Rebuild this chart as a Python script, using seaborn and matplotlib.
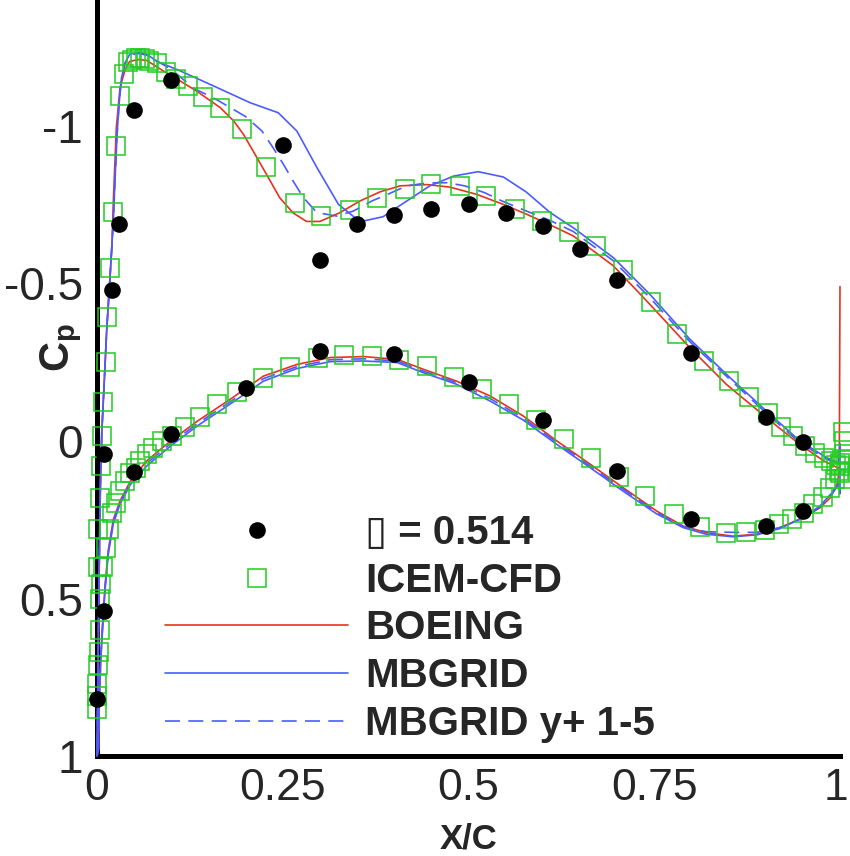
import numpy as np
import pandas as pd
import matplotlib
matplotlib.use("Agg")
import matplotlib.pyplot as plt
from matplotlib.ticker import MultipleLocator, FixedLocator, FixedFormatter
from matplotlib.transforms import ScaledTranslation
import seaborn as sns

# ---------------- data (x/c, Cp) ----------------
# Experiment (filled circles)
exp_up_x = [0.0, 0.01, 0.01, 0.02, 0.03, 0.05, 0.10, 0.25, 0.30, 0.35, 0.40, 0.45, 0.50,
            0.55, 0.60, 0.65, 0.70, 0.80, 0.90, 0.95]
exp_up_cp = [0.82, 0.54, 0.042, -0.478, -0.688, -1.05, -1.147, -0.939, -0.574, -0.688, -0.718,
             -0.737, -0.752, -0.725, -0.683, -0.61, -0.511, -0.28, -0.077, 0.004]
exp_lo_x = [0.05, 0.10, 0.20, 0.30, 0.40, 0.50, 0.60, 0.70, 0.80, 0.90, 0.95]
exp_lo_cp = [0.097, -0.023, -0.167, -0.286, -0.276, -0.188, -0.066, 0.095, 0.249, 0.27, 0.222]

# ICEM-CFD (open squares)
icem_up_x = [0.0, 0.0, 0.0, 0.002, 0.003, 0.004, 0.004, 0.006, 0.002, 0.002, 0.004, 0.0054,
             0.007, 0.0085, 0.012, 0.014, 0.0175, 0.022, 0.026, 0.031, 0.037, 0.042, 0.047,
             0.052, 0.058, 0.064, 0.070, 0.081, 0.093, 0.106, 0.123, 0.142, 0.166, 0.195,
             0.228, 0.266, 0.301, 0.340, 0.377, 0.414, 0.450, 0.488, 0.524, 0.562, 0.599,
             0.635, 0.672, 0.708, 0.745, 0.781, 0.817, 0.851, 0.878, 0.903, 0.921, 0.937,
             0.953, 0.966, 0.978, 0.988, 0.995, 1.0, 1.004, 1.005]
icem_up_cp = [0.85, 0.81, 0.77, 0.71, 0.67, 0.60, 0.50, 0.455, 0.40, 0.28, 0.18, 0.079,
              -0.016, -0.124, -0.252, -0.394, -0.548, -0.728, -0.937, -1.095, -1.166, -1.203,
              -1.21, -1.215, -1.215, -1.212, -1.205, -1.2, -1.172, -1.148, -1.127, -1.093,
              -1.056, -0.99, -0.869, -0.755, -0.714, -0.733, -0.771, -0.801, -0.816, -0.809,
              -0.779, -0.737, -0.697, -0.663, -0.619, -0.542, -0.442, -0.341, -0.254, -0.19,
              -0.14, -0.09, -0.044, -0.016, 0.016, 0.037, 0.053, 0.065, 0.075, 0.08, -0.03,
              0.0]
icem_lo_x = [0.008, 0.012, 0.016, 0.020, 0.025, 0.031, 0.038, 0.045, 0.052, 0.058, 0.067,
             0.076, 0.087, 0.101, 0.119, 0.138, 0.162, 0.188, 0.223, 0.260, 0.297, 0.333,
             0.370, 0.406, 0.444, 0.480, 0.518, 0.555, 0.591, 0.628, 0.665, 0.702, 0.738,
             0.776, 0.812, 0.847, 0.874, 0.899, 0.918, 0.935, 0.951, 0.964, 0.977, 0.987,
             0.993, 0.998, 1.0, 1.005, 1.008, 1.0, 1.005]
icem_lo_cp = [0.40, 0.34, 0.28, 0.228, 0.196, 0.159, 0.127, 0.101, 0.085, 0.063, 0.042,
              0.021, 0.0, -0.016, -0.044, -0.077, -0.117, -0.157, -0.199, -0.236, -0.263,
              -0.272, -0.269, -0.256, -0.238, -0.204, -0.166, -0.118, -0.066, -0.005, 0.055,
              0.114, 0.175, 0.233, 0.273, 0.292, 0.289, 0.284, 0.265, 0.247, 0.23, 0.201,
              0.178, 0.148, 0.122, 0.095, 0.07, 0.04, 0.06, 0.1, 0.12]

# BOEING (red)
boe_up_x = [0.0, 0.001, 0.002, 0.003, 0.0045, 0.0065, 0.01, 0.013, 0.017, 0.02, 0.022, 0.026,
            0.031, 0.038, 0.044, 0.056, 0.067, 0.089, 0.112, 0.134, 0.166, 0.184, 0.197, 0.210,
            0.228, 0.246, 0.264, 0.282, 0.300, 0.327, 0.354, 0.381, 0.408, 0.444, 0.475, 0.511,
            0.547, 0.578, 0.610, 0.641, 0.695, 0.744, 0.798, 0.847, 0.901, 0.946, 0.978, 0.997]
boe_up_cp = [1.0, 0.8, 0.6, 0.4, 0.15, -0.03, -0.2, -0.35, -0.5, -0.614, -0.762, -0.995,
             -1.122, -1.18, -1.205, -1.211, -1.208, -1.175, -1.143, -1.111, -1.058, -1.016,
             -0.974, -0.921, -0.847, -0.772, -0.724, -0.697, -0.697, -0.725, -0.762, -0.791,
             -0.81, -0.814, -0.806, -0.783, -0.751, -0.72, -0.686, -0.651, -0.556, -0.434,
             -0.296, -0.18, -0.074, 0.011, 0.063, 0.085]
boe_lo_x = [0.002, 0.003, 0.005, 0.008, 0.011, 0.015, 0.022, 0.031, 0.045, 0.067, 0.099, 0.135,
            0.179, 0.224, 0.269, 0.314, 0.359, 0.404, 0.439, 0.484, 0.529, 0.574, 0.619, 0.664,
            0.708, 0.753, 0.789, 0.82, 0.856, 0.888, 0.919, 0.951, 0.973, 0.987, 0.996, 0.999,
            1.0]
boe_lo_cp = [0.974, 0.825, 0.688, 0.561, 0.455, 0.349, 0.249, 0.19, 0.127, 0.063, 0.0, -0.063,
             -0.132, -0.206, -0.243, -0.265, -0.268, -0.259, -0.228, -0.19, -0.143, -0.079, 0.0,
             0.074, 0.148, 0.222, 0.27, 0.291, 0.302, 0.296, 0.275, 0.243, 0.212, 0.18, 0.138,
             0.095, -0.49]

# MBGRID (blue solid)
mb_up_x = [0.0, 0.001, 0.002, 0.003, 0.0045, 0.0065, 0.01, 0.013, 0.017, 0.02, 0.022, 0.024,
           0.027, 0.03, 0.033, 0.038, 0.044, 0.056, 0.067, 0.08, 0.112, 0.157, 0.206, 0.244,
           0.269, 0.296, 0.325, 0.354, 0.385, 0.417, 0.448, 0.48, 0.513, 0.547, 0.578, 0.61,
           0.641, 0.695, 0.744, 0.798, 0.852, 0.901, 0.946, 0.982, 0.998, 1.0]
mb_up_cp = [1.0, 0.8, 0.6, 0.4, 0.15, -0.03, -0.2, -0.35, -0.5, -0.62, -0.7, -0.815, -0.974,
            -1.079, -1.153, -1.201, -1.228, -1.233, -1.228, -1.206, -1.175, -1.127, -1.074,
            -1.042, -0.984, -0.868, -0.751, -0.696, -0.712, -0.762, -0.81, -0.841, -0.855,
            -0.838, -0.79, -0.725, -0.677, -0.582, -0.466, -0.323, -0.201, -0.095, 0.0, 0.053,
            0.069, 0.01]
mb_lo_x = [0.002, 0.003, 0.005, 0.008, 0.011, 0.015, 0.022, 0.031, 0.045, 0.067, 0.099, 0.135,
           0.179, 0.224, 0.269, 0.314, 0.359, 0.404, 0.439, 0.484, 0.529, 0.574, 0.619, 0.664,
           0.708, 0.753, 0.789, 0.82, 0.856, 0.888, 0.919, 0.951, 0.973, 0.989, 0.998, 1.0, 1.0]
mb_lo_cp = [0.98, 0.835, 0.70, 0.575, 0.468, 0.362, 0.262, 0.20, 0.138, 0.079, 0.016, -0.048,
            -0.117, -0.19, -0.23, -0.252, -0.254, -0.249, -0.217, -0.18, -0.127, -0.066, 0.011,
            0.085, 0.159, 0.231, 0.275, 0.296, 0.304, 0.298, 0.278, 0.243, 0.206, 0.165, 0.135,
            0.168, 0.01]

# MBGRID y+ 1-5 (blue dashed)
mby_up_x = [0.0, 0.001, 0.002, 0.003, 0.0045, 0.0065, 0.01, 0.013, 0.017, 0.02, 0.022, 0.024,
            0.027, 0.03, 0.033, 0.038, 0.044, 0.056, 0.067, 0.1, 0.13, 0.16, 0.2, 0.222, 0.237,
            0.251, 0.264, 0.278, 0.296, 0.323, 0.345, 0.37, 0.394, 0.417, 0.444, 0.471, 0.495,
            0.522, 0.545, 0.578, 0.61, 0.641, 0.695, 0.744, 0.798, 0.852, 0.901, 0.946, 0.982,
            0.998]
mby_up_cp = [1.0, 0.8, 0.6, 0.4, 0.15, -0.03, -0.2, -0.35, -0.5, -0.62, -0.7, -0.815, -0.974,
             -1.079, -1.153, -1.201, -1.225, -1.23, -1.225, -1.18, -1.12, -1.085, -1.03, -0.984,
             -0.931, -0.878, -0.825, -0.772, -0.725, -0.714, -0.73, -0.762, -0.786, -0.81, -0.819,
             -0.82, -0.81, -0.788, -0.762, -0.73, -0.7, -0.665, -0.572, -0.455, -0.315, -0.195,
             -0.088, 0.005, 0.058, 0.072]
mby_lo_x = mb_lo_x[:-2]
mby_lo_cp = [0.977, 0.83, 0.694, 0.568, 0.462, 0.356, 0.256, 0.195, 0.133, 0.071, 0.008,
             -0.055, -0.124, -0.198, -0.236, -0.258, -0.261, -0.254, -0.222, -0.185, -0.135,
             -0.072, 0.005, 0.08, 0.153, 0.226, 0.272, 0.288, 0.29, 0.29, 0.275, 0.243, 0.21,
             0.17, 0.136]

legend_labels = ["\u25af = 0.514", "ICEM-CFD", "BOEING", "MBGRID", "MBGRID y+ 1-5"]
x_ticks = [0, 0.25, 0.5, 0.75, 1]
x_ticklabels = ["0", "0.25", "0.5", "0.75", "1"]
y_ticks = [-1, -0.5, 0, 0.5, 1]
y_ticklabels = ["-1", "-0.5", "0", "0.5", "1"]

# ---------------- styling ----------------
sns.set_style("white")
plt.rcParams["font.family"] = ["Liberation Sans", "DejaVu Sans"]
plt.rcParams["mathtext.fontset"] = "custom"
plt.rcParams["mathtext.rm"] = "Liberation Sans"
plt.rcParams["mathtext.bf"] = "Liberation Sans:bold"

RED = "#e8321e"
BLUE = "#4a5cff"
GREEN = "#22cc22"

fig = plt.figure(figsize=(8.5, 8.56), dpi=100)
ax = fig.add_axes([97 / 850, 100 / 856, 743 / 850, 756 / 856])


def curve(up_x, up_cp, lo_x, lo_cp):
    # upper surface TE->LE, then lower LE->TE
    xs = list(up_x[::-1]) + list(lo_x)
    ys = list(up_cp[::-1]) + list(lo_cp)
    return pd.DataFrame({"x": xs, "cp": ys})


exp_df = pd.DataFrame({"x": exp_up_x + exp_lo_x, "cp": exp_up_cp + exp_lo_cp})
icem_df = pd.DataFrame({"x": icem_up_x + icem_lo_x, "cp": icem_up_cp + icem_lo_cp})
boe_df = curve(boe_up_x, boe_up_cp, boe_lo_x, boe_lo_cp)
mb_df = curve(mb_up_x, mb_up_cp, mb_lo_x, mb_lo_cp)
mby_df = curve(mby_up_x, mby_up_cp, mby_lo_x, mby_lo_cp)

sns.lineplot(data=boe_df, x="x", y="cp", sort=False, estimator=None, color=RED, lw=1.2,
             label=legend_labels[2], ax=ax, clip_on=False, zorder=3)
sns.lineplot(data=mb_df, x="x", y="cp", sort=False, estimator=None, color=BLUE, lw=1.2,
             label=legend_labels[3], ax=ax, clip_on=False, zorder=3)
sns.lineplot(data=mby_df, x="x", y="cp", sort=False, estimator=None, color=BLUE, lw=1.2,
             label=legend_labels[4], ax=ax, clip_on=False, zorder=3)
ax.lines[-1].set_dashes([9, 5])
sns.lineplot(data=icem_df, x="x", y="cp", sort=False, estimator=None, color=GREEN,
             linestyle="", marker="s", markersize=12.7, markerfacecolor="none",
             markeredgecolor=GREEN, markeredgewidth=1.1, label=legend_labels[1], ax=ax,
             clip_on=False, zorder=4)
sns.lineplot(data=exp_df, x="x", y="cp", sort=False, estimator=None, color="black",
             linestyle="", marker="o", markersize=12, markerfacecolor="black",
             markeredgecolor="black", markeredgewidth=0, label=legend_labels[0], ax=ax,
             clip_on=False, zorder=5)

ax.set_xlim(0, 1)
ax.set_ylim(1, -1.4)

for s in ["top", "right"]:
    ax.spines[s].set_visible(False)
for s in ["left", "bottom"]:
    ax.spines[s].set_linewidth(3.6)
    ax.spines[s].set_color("black")

ax.xaxis.set_major_locator(FixedLocator(x_ticks))
ax.xaxis.set_major_formatter(FixedFormatter(x_ticklabels))
ax.yaxis.set_major_locator(FixedLocator(y_ticks))
ax.yaxis.set_major_formatter(FixedFormatter(y_ticklabels))
ax.xaxis.set_minor_locator(MultipleLocator(0.05))
ax.yaxis.set_minor_locator(MultipleLocator(0.1))
ax.tick_params(which="major", direction="in", length=14, width=2.6, labelsize=33,
               color="black")
ax.tick_params(which="minor", direction="in", length=7, width=1.0, color="black")
ax.tick_params(axis="x", which="major", pad=9, labelsize=32)
ax.tick_params(axis="y", which="major", pad=10)

ax.set_xlabel("X/C", fontsize=25, fontweight="bold")
ax.xaxis.set_label_coords(0.5, -0.1315)
ax.xaxis.label.set_verticalalignment("bottom")
ax.set_ylabel(r"$\mathbf{C}_{\mathbf{p}}$", fontsize=30, rotation=90)
ax.yaxis.set_label_coords(-0.017, 0.54)

handles, labels = ax.get_legend_handles_labels()
order = [labels.index(l) for l in legend_labels]
leg = ax.legend([handles[i] for i in order], [labels[i] for i in order],
                loc="upper left", bbox_to_anchor=(165 / 850, 1 - 514 / 856),
                bbox_transform=fig.transFigure, frameon=False, borderpad=0,
                borderaxespad=0, handlelength=4.55, handletextpad=0.42, labelspacing=0.24,
                prop={"family": ["Liberation Sans", "DejaVu Sans"], "weight": "bold",
                      "size": 29})

# keep the last x tick label ("1") inside the figure edge
fig.canvas.draw()
last = ax.get_xticklabels()[-1]
last.set_transform(last.get_transform() + ScaledTranslation(-4 / 100, 0, fig.dpi_scale_trans))

fig.savefig("out.png", dpi=100)
